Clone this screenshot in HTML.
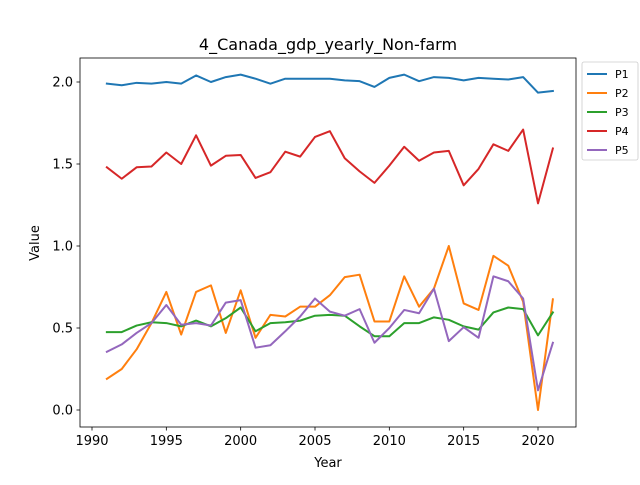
<!DOCTYPE html>
<html><head><meta charset="utf-8"><style>
body{margin:0;background:#fff}
svg{font-family:"DejaVu Sans","Liberation Sans",sans-serif}
</style></head><body>
<svg id="chart" width="640" height="480"></svg>
<script>
const years=[];for(let y=1991;y<=2021;y++)years.push(y);
const seriesNames=["P1","P2","P3","P4","P5"];
const p1=[1.99,1.98,1.995,1.99,2.00,1.99,2.04,2.00,2.03,2.045,2.02,1.99,2.02,2.02,2.02,2.02,2.01,2.005,1.97,2.025,2.045,2.005,2.03,2.025,2.01,2.025,2.02,2.015,2.03,1.935,1.945];
const p2=[0.19,0.25,0.37,0.53,0.72,0.46,0.72,0.76,0.47,0.73,0.44,0.58,0.57,0.63,0.63,0.70,0.81,0.825,0.54,0.54,0.815,0.63,0.74,1.00,0.65,0.61,0.94,0.88,0.66,0.0,0.675];
const p3=[0.475,0.475,0.515,0.535,0.53,0.51,0.545,0.51,0.56,0.625,0.48,0.53,0.535,0.545,0.575,0.58,0.575,0.51,0.45,0.45,0.53,0.53,0.565,0.55,0.51,0.49,0.595,0.625,0.615,0.455,0.595];
const p4=[1.48,1.41,1.48,1.485,1.57,1.50,1.675,1.49,1.55,1.555,1.415,1.45,1.575,1.545,1.665,1.70,1.535,1.455,1.385,1.49,1.605,1.52,1.57,1.58,1.37,1.47,1.62,1.58,1.71,1.26,1.595];
const p5=[0.355,0.40,0.47,0.53,0.64,0.52,0.53,0.515,0.655,0.67,0.38,0.395,0.48,0.57,0.68,0.60,0.575,0.615,0.41,0.50,0.61,0.59,0.74,0.42,0.505,0.44,0.815,0.785,0.68,0.12,0.41];
const xTicks=[1990,1995,2000,2005,2010,2015,2020];
const yTicks=[0.0,0.5,1.0,1.5,2.0];
const colors=["#1f77b4","#ff7f0e","#2ca02c","#d62728","#9467bd"];
const L=80,R=576,T=58,B=427;
const xs=v=>92+(v-1990)*(538-92)/30;
const ys=v=>410-v*164;
const NS="http://www.w3.org/2000/svg";
const svg=document.getElementById('chart');
function mk(tag,attrs,parent){const e=document.createElementNS(NS,tag);for(const k in attrs)e.setAttribute(k,attrs[k]);(parent||svg).appendChild(e);return e;}
const t=mk('text',{x:328,y:50,'text-anchor':'middle','font-size':16,fill:'#000'});


t.textContent='4_Canada_gdp_yearly_Non-farm';
const all=[p1,p2,p3,p4,p5];
all.forEach((s,i)=>{
  const pl=mk('polyline',{points:s.map((v,j)=>xs(years[j])+','+ys(v)).join(' '),fill:'none',stroke:colors[i],'stroke-width':2,'stroke-linejoin':'round','stroke-linecap':'square'});
  
  
});
const fr=mk('rect',{x:L,y:T,width:R-L,height:B-T,fill:'none',stroke:'#000','stroke-width':0.8});


xTicks.forEach(v=>{
  const x=xs(v);
  mk('line',{x1:x,x2:x,y1:B,y2:B+3.5,stroke:'#000','stroke-width':0.8});
  const tx=mk('text',{x:x,y:B+18,'text-anchor':'middle','font-size':13,fill:'#000'});
  
  
  tx.textContent=v;
});
yTicks.forEach(v=>{
  const y=ys(v);
  mk('line',{x1:L,x2:L-3.5,y1:y,y2:y,stroke:'#000','stroke-width':0.8});
  const tx=mk('text',{x:L-7,y:y+4.5,'text-anchor':'end','font-size':13,fill:'#000'});
  
  
  tx.textContent=v.toFixed(1);
});
const xt=mk('text',{x:328,y:467,'text-anchor':'middle','font-size':13,fill:'#000'});


xt.textContent='Year';
const yt=mk('text',{x:39,y:243,'text-anchor':'middle','font-size':13,fill:'#000',transform:'rotate(-90 39 243)'});


yt.textContent='Value';
const lg=mk('g',{});


mk('rect',{x:582,y:62,width:56,height:98,rx:2,fill:'#fff',stroke:'#ccc','stroke-width':0.8},lg);
seriesNames.forEach((n,i)=>{
  const y=74+i*19;
  const g=mk('g',{},lg);
  
  
  mk('line',{x1:587,x2:607,y1:y,y2:y,stroke:colors[i],'stroke-width':2},g);
  const tx=mk('text',{x:615,y:y+4,'font-size':11,fill:'#000'},g);
  tx.textContent=n;
});
</script>
</body></html>
